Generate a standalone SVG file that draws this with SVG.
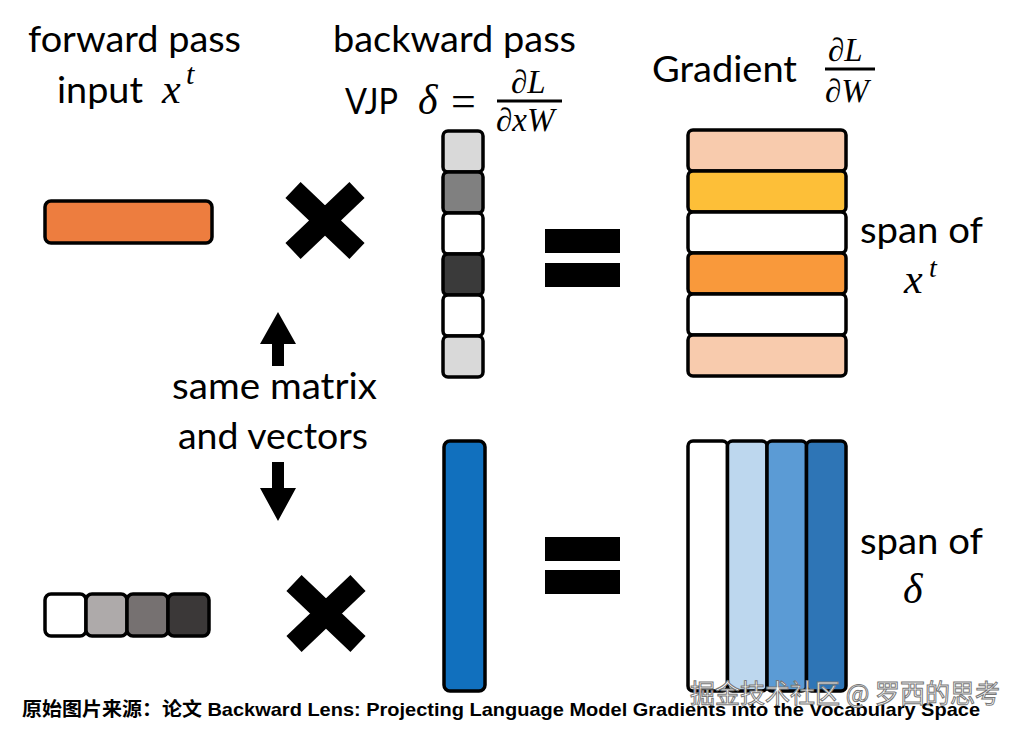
<svg xmlns="http://www.w3.org/2000/svg" width="1022" height="732" viewBox="0 0 1022 732">
<style>
.lbl{font-family:Lato,"Open Sans","Liberation Sans",sans-serif;font-size:37px;fill:#000}
.m{font-family:"Liberation Serif","DejaVu Serif",serif;font-style:italic;fill:#000}
.cell{stroke:#000;stroke-width:3.5}
.foot{font-family:"Liberation Sans","Noto Sans CJK SC",sans-serif;font-weight:bold;font-size:19px;fill:#000}
.wm{font-family:"Noto Sans CJK SC","Liberation Sans",sans-serif;font-size:26px;fill:#fff;stroke:#777;stroke-width:1}
</style>
<rect width="1022" height="732" fill="#fff"/>

<g id="labels-top">
<text class="lbl" x="28" y="52" textLength="213" lengthAdjust="spacingAndGlyphs">forward pass</text>
<text class="lbl" x="57" y="103" textLength="86" lengthAdjust="spacingAndGlyphs">input</text>
<text class="m" x="162" y="103" font-size="42">x</text>
<text class="m" x="186" y="84" font-size="30">t</text>
<text class="lbl" x="333" y="52" textLength="243" lengthAdjust="spacingAndGlyphs">backward pass</text>
<text class="lbl" x="345" y="114" textLength="53" lengthAdjust="spacingAndGlyphs">VJP</text>
<text class="m" x="418" y="114" font-size="42">δ</text>
<text font-family="Liberation Serif,serif" font-size="44" x="451" y="116">=</text>
<text class="m" x="511" y="93" font-size="33">∂L</text>
<line x1="497" y1="101" x2="562" y2="101" stroke="#000" stroke-width="3"/>
<text class="m" x="496" y="131" font-size="33">∂xW</text>
<text class="lbl" x="652" y="82" textLength="145" lengthAdjust="spacingAndGlyphs">Gradient</text>
<text class="m" x="828" y="61" font-size="33">∂L</text>
<line x1="825" y1="69" x2="875" y2="69" stroke="#000" stroke-width="3"/>
<text class="m" x="825" y="102" font-size="33">∂W</text>
</g>

<g id="forward-input">
<rect x="45" y="201" width="167" height="42" rx="6" fill="#ed7d3f" stroke="#000" stroke-width="3.5"/>
</g>

<g id="times-top">
<path d="M293 190 L357 251 M357 190 L293 251" stroke="#000" stroke-width="22"/>
</g>

<g id="vjp-column">
<rect class="cell" x="443" y="131" width="40" height="41" rx="5" fill="#d9d9d9"/>
<rect class="cell" x="443" y="172" width="40" height="41" rx="5" fill="#808080"/>
<rect class="cell" x="443" y="213" width="40" height="41" rx="5" fill="#fff"/>
<rect class="cell" x="443" y="254" width="40" height="41" rx="5" fill="#3a3a3a"/>
<rect class="cell" x="443" y="295" width="40" height="41" rx="5" fill="#fff"/>
<rect class="cell" x="443" y="336" width="40" height="41" rx="5" fill="#d9d9d9"/>
</g>

<g id="equals-top">
<rect x="545" y="229" width="75" height="24" fill="#000"/>
<rect x="545" y="263" width="75" height="24" fill="#000"/>
</g>

<g id="gradient-rows">
<rect class="cell" x="688" y="130" width="158" height="41" rx="5" fill="#f8cbad"/>
<rect class="cell" x="688" y="171" width="158" height="41" rx="5" fill="#fdbf38"/>
<rect class="cell" x="688" y="212" width="158" height="41" rx="5" fill="#fff"/>
<rect class="cell" x="688" y="253" width="158" height="41" rx="5" fill="#f9993b"/>
<rect class="cell" x="688" y="294" width="158" height="41" rx="5" fill="#fff"/>
<rect class="cell" x="688" y="335" width="158" height="41" rx="5" fill="#f8cbad"/>
</g>

<g id="span-x">
<text class="lbl" x="860" y="243" textLength="123" lengthAdjust="spacingAndGlyphs">span of</text>
<text class="m" x="904" y="293" font-size="42">x</text>
<text class="m" x="929" y="277" font-size="28">t</text>
</g>

<g id="connectors">
<path d="M278 312 L296 344 L284 344 L284 366 L272 366 L272 344 L260 344 Z" fill="#000"/>
<path d="M272 462 L284 462 L284 488 L296 488 L278 521 L260 488 L272 488 Z" fill="#000"/>
</g>

<g id="same-label">
<text class="lbl" x="172" y="399" textLength="205" lengthAdjust="spacingAndGlyphs">same matrix</text>
<text class="lbl" x="178" y="449" textLength="190" lengthAdjust="spacingAndGlyphs">and vectors</text>
</g>

<g id="delta-column">
<rect x="444" y="441" width="41" height="250" rx="6" fill="#1170be" stroke="#000" stroke-width="3.5"/>
</g>

<g id="equals-bottom">
<rect x="545" y="537" width="75" height="24" fill="#000"/>
<rect x="545" y="570" width="75" height="24" fill="#000"/>
</g>

<g id="gradient-cols">
<rect class="cell" x="688" y="441" width="39.5" height="250" rx="5" fill="#fff"/>
<rect class="cell" x="727.5" y="441" width="39.5" height="250" rx="5" fill="#bdd7ee"/>
<rect class="cell" x="767" y="441" width="39.5" height="250" rx="5" fill="#5b9bd5"/>
<rect class="cell" x="806.5" y="441" width="39.5" height="250" rx="5" fill="#2e75b6"/>
</g>

<g id="span-delta">
<text class="lbl" x="860" y="554" textLength="123" lengthAdjust="spacingAndGlyphs">span of</text>
<text class="m" x="903" y="603" font-size="42">δ</text>
</g>

<g id="forward-input-gray">
<rect class="cell" x="45" y="594" width="41" height="42" rx="6" fill="#fff"/>
<rect class="cell" x="86" y="594" width="41" height="42" rx="6" fill="#aeaaaa"/>
<rect class="cell" x="127" y="594" width="41" height="42" rx="6" fill="#767171"/>
<rect class="cell" x="168" y="594" width="41" height="42" rx="6" fill="#3b3838"/>
</g>

<g id="times-bottom">
<path d="M294 583 L358 644 M358 583 L294 644" stroke="#000" stroke-width="22"/>
</g>

<g id="footer">
<text class="foot" x="22" y="716" textLength="958" lengthAdjust="spacingAndGlyphs">原始图片来源：论文 Backward Lens: Projecting Language Model Gradients into the Vocabulary Space</text>
<text class="wm" x="690" y="703" textLength="310" lengthAdjust="spacingAndGlyphs">掘金技术社区 @ 罗西的思考</text>
</g>
</svg>
